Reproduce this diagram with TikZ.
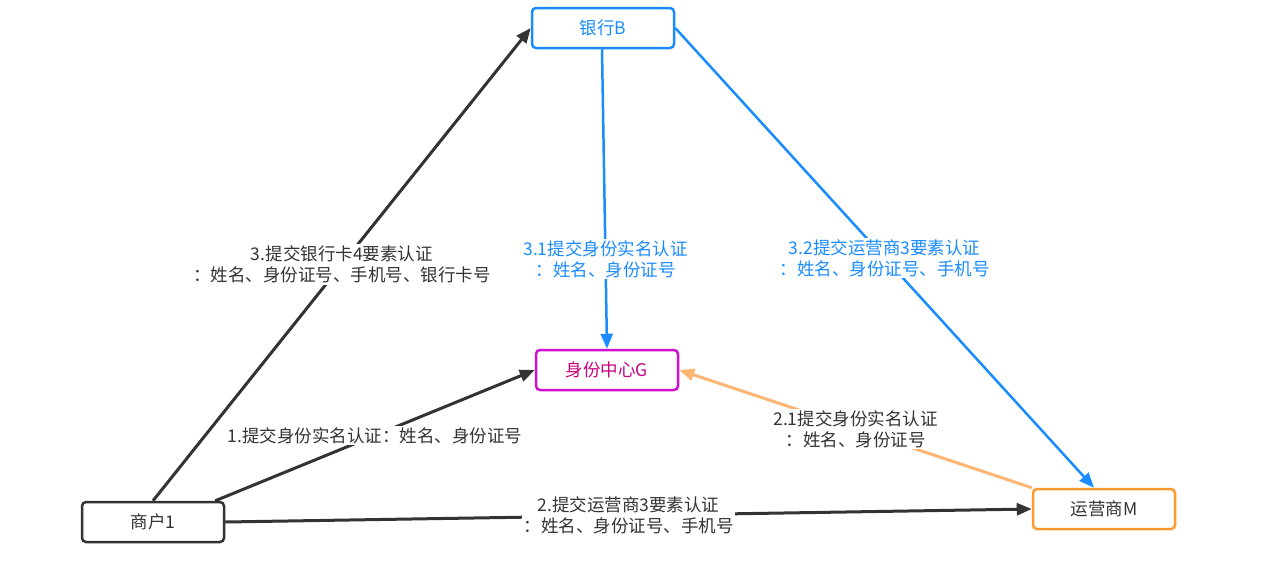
\documentclass[tikz,border=0pt]{standalone}
\usepackage{fontspec}
\setmainfont{Noto Sans CJK SC}
\usetikzlibrary{arrows.meta}
\definecolor{dgrey}{HTML}{333333}
\definecolor{lblue}{HTML}{1A8CFF}
\definecolor{mag}{HTML}{D010D0}
\definecolor{magtext}{HTML}{C8007E}
\definecolor{orb}{HTML}{FF9A30}
\definecolor{orl}{HTML}{FFB573}
\tikzset{
  box/.style={draw, rounded corners=4pt, line width=2.5pt, minimum width=142pt, minimum height=40pt, inner sep=0pt, font=\fontsize{17.5}{21}\selectfont, fill=white},
  conn/.style={line width=3pt, -{Triangle[length=15pt,width=12pt]}},
  lbl/.style={fill=white, align=center, inner sep=1.5pt, font=\fontsize{17.5}{21}\selectfont}
}
\begin{document}
\begin{tikzpicture}[x=1pt,y=-1pt]
\useasboundingbox (0,0) rectangle (1268,560);
\node[box, draw=lblue, text=lblue] (B) at (603,28) {银行B};
\node[box, draw=mag, text=magtext] (G) at (607,370) {身份中心G};
\node[box, draw=dgrey, text=dgrey] (S) at (153,522) {商户1};
\node[box, draw=orb, text=dgrey] (M) at (1104,509) {运营商M};

\draw[conn, dgrey] (S.north) -- (B.west)
  node[lbl, text=dgrey, pos=0.5] {3.提交银行卡4要素认证\\：姓名、身份证号、手机号、银行卡号};
\draw[conn, dgrey] ([xshift=-10]S.north east) -- (G.west)
  node[lbl, text=dgrey, pos=0.5] {1.提交身份实名认证：姓名、身份证号};
\draw[conn, dgrey] (S.east) -- (M.west)
  node[lbl, text=dgrey, pos=0.5] {2.提交运营商3要素认证\\：姓名、身份证号、手机号};
\draw[conn, lblue, line width=2.5pt] ([xshift=-1]B.south) -- (G.north)
  node[lbl, text=lblue, pos=0.7] {3.1提交身份实名认证\\：姓名、身份证号};
\draw[conn, lblue, line width=2.5pt] (B.east) -- ([xshift=-10]M.north)
  node[lbl, text=lblue, pos=0.5] {3.2提交运营商3要素认证\\：姓名、身份证号、手机号};
\draw[conn, orl] (M.north west) -- (G.east)
  node[lbl, text=dgrey, pos=0.5] {2.1提交身份实名认证\\：姓名、身份证号};
\end{tikzpicture}
\end{document}
